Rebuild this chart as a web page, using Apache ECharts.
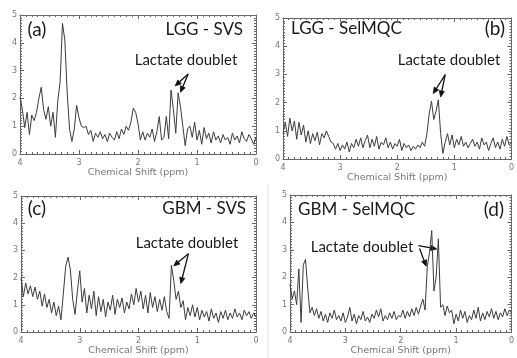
<!DOCTYPE html>
<html>
<head>
<meta charset="utf-8">
<script src="https://cdn.jsdelivr.net/npm/echarts@6/dist/echarts.min.js"></script>
<style>
  html, body { margin: 0; padding: 0; background: #fff; }
  #chart { width: 517px; height: 358px; }
</style>
</head>
<body>
<div id="chart"></div>
<script>
// chemical shift grid (ppm), shared by all four spectra
const ppm = [
  4.00, 3.96, 3.92, 3.88, 3.84, 3.80, 3.76, 3.72, 3.68, 3.64,
  3.60, 3.56, 3.52, 3.48, 3.44, 3.40, 3.36, 3.32, 3.28, 3.24,
  3.20, 3.16, 3.12, 3.08, 3.04, 3.00, 2.96, 2.92, 2.88, 2.84,
  2.80, 2.76, 2.72, 2.68, 2.64, 2.60, 2.56, 2.52, 2.48, 2.44,
  2.40, 2.36, 2.32, 2.28, 2.24, 2.20, 2.16, 2.12, 2.08, 2.04,
  2.00, 1.96, 1.92, 1.88, 1.84, 1.80, 1.76, 1.72, 1.68, 1.64,
  1.60, 1.56, 1.52, 1.48, 1.44, 1.40, 1.36, 1.32, 1.28, 1.24,
  1.20, 1.16, 1.12, 1.08, 1.04, 1.00, 0.96, 0.92, 0.88, 0.84,
  0.80, 0.76, 0.72, 0.68, 0.64, 0.60, 0.56, 0.52, 0.48, 0.44,
  0.40, 0.36, 0.32, 0.28, 0.24, 0.20, 0.16, 0.12, 0.08, 0.04,
  0.00
];

const lggSvs = [
  2.05, 1.6, 0.95, 1.5, 0.7, 1.4, 1.2, 1.5, 2.0, 2.4,
  1.6, 1.25, 1.7, 1.0, 1.5, 0.6, 1.9, 2.6, 4.7, 4.1,
  2.2, 0.9, 0.45, 0.9, 1.75, 1.3, 1.0, 0.95, 1.0, 0.7,
  0.85, 0.45, 0.75, 0.6, 0.8, 0.55, 0.7, 0.45, 0.75, 0.6,
  0.5, 0.8, 0.55, 0.9, 0.7, 1.0, 0.85, 1.15, 1.65, 1.5,
  1.1, 0.5, 0.8, 0.5, 0.75, 0.6, 0.9, 0.45, 0.8, 1.35,
  0.5, 0.6, 1.35, 0.55, 2.3, 1.6, 0.75, 2.2, 1.7, 1.0,
  0.3, 0.9, 1.0, 0.6, 1.15, 0.5, 0.85, 0.35, 0.95, 0.55,
  0.75, 0.4, 0.8, 0.5, 0.65, 0.4, 0.7, 0.5, 0.6, 0.35,
  0.75, 0.5, 0.65, 0.4, 0.8, 0.55, 0.45, 0.7, 0.55, 0.35,
  0.6
];

const lggSelMQC = [
  0.9, 1.3, 0.8, 1.45, 1.0, 1.35, 0.7, 1.3, 0.85, 1.2,
  0.6, 1.0, 0.55, 0.9, 0.65, 0.95, 0.5, 0.9, 0.75, 1.0,
  0.8, 0.6, 0.55, 0.35, 0.55, 0.3, 0.5, 0.35, 0.6, 0.25,
  0.55, 0.4, 0.7, 0.45, 0.75, 0.4, 0.65, 0.85, 0.4, 0.7,
  0.45, 0.8, 0.35, 0.6, 0.5, 0.75, 0.4, 0.6, 0.35, 0.55,
  0.45, 0.7, 0.3, 0.55, 0.4, 0.5, 0.3, 0.45, 0.35, 0.5,
  0.4, 0.6, 0.45, 0.9, 1.6, 2.05, 1.4, 1.7, 2.1, 0.9,
  0.2, 0.6, 0.9, 0.5, 0.85, 0.4, 0.7, 0.5, 0.8, 0.45,
  0.6, 0.4, 0.55, 0.7, 0.45, 0.6, 0.35, 0.75, 0.5, 0.6,
  0.3, 0.55, 0.75, 0.4, 0.6, 0.35, 0.7, 0.45, 0.8, 0.5,
  0.6
];

const gbmSvs = [
  2.0, 1.3, 1.8, 1.4, 1.7, 1.3, 1.65, 1.2, 1.5, 0.95,
  1.4, 0.9, 1.2, 0.7, 1.1, 0.6, 0.95, 0.45, 1.4, 2.4,
  2.75, 2.3, 1.2, 0.65, 1.5, 2.25, 1.1, 1.6, 0.7, 1.35,
  0.85, 1.5, 0.6, 1.3, 0.75, 1.2, 0.55, 1.1, 0.8, 1.35,
  0.65, 1.2, 0.9, 1.25, 0.7, 1.1, 0.85, 1.4, 1.0, 1.6,
  1.1, 1.5, 0.85, 1.35, 0.7, 1.45, 0.9, 1.3, 0.75, 1.2,
  0.8, 1.3, 0.75, 0.5, 2.45, 1.9, 1.2, 1.5, 0.9, 1.15,
  0.45, 0.9, 0.6, 1.0, 0.55, 0.9, 0.45, 0.8, 0.55, 0.75,
  0.4, 0.85, 0.5, 0.7, 0.35, 0.75, 0.5, 0.8, 0.45, 0.7,
  0.5, 0.85, 0.55, 0.7, 0.45, 0.8, 0.6, 0.75, 0.5, 0.7,
  0.55
];

const gbmSelMQC = [
  1.75, 1.2, 1.5, 1.0, 2.3, 0.35, 2.45, 2.65, 1.6, 0.7,
  0.9, 0.6, 0.85, 0.5, 0.75, 0.4, 0.65, 0.35, 0.7, 0.5,
  0.8, 0.45, 0.6, 0.4, 0.7, 0.35, 0.55, 0.9, 0.4, 0.65,
  0.3, 0.6, 0.45, 0.75, 0.4, 0.55, 0.35, 0.65, 0.5, 0.8,
  0.55, 0.85, 0.4, 0.6, 0.45, 0.7, 0.5, 0.75, 0.45, 0.6,
  0.55, 0.8, 0.5, 0.75, 0.55, 0.85, 0.6, 0.9, 0.65, 0.95,
  1.2, 0.8, 2.4, 2.9, 3.7, 1.5, 2.0, 3.4, 0.9, 1.0,
  0.6, 0.95, 0.7, 0.8, 0.3, 0.65, 0.4, 0.8, 0.5, 0.75,
  0.35, 0.6, 0.45, 0.8, 0.5, 0.9, 0.4, 0.7, 0.45, 0.75,
  0.55, 0.85, 0.5, 0.75, 0.45, 0.7, 0.55, 0.85, 0.6, 0.8,
  0.7
];

const xTicks = [4, 3, 2, 1, 0];
const yTicks = [0, 1, 2, 3, 4, 5];

const panels = [
  { name: "LGG - SVS", tag: "(a)", values: lggSvs,
    grid: { left: 20, top: 15, width: 236, height: 139 } },
  { name: "LGG - SelMQC", tag: "(b)", values: lggSelMQC,
    grid: { left: 283, top: 18, width: 233, height: 141 } },
  { name: "GBM - SVS", tag: "(c)", values: gbmSvs,
    grid: { left: 21, top: 196, width: 235, height: 136 } },
  { name: "GBM - SelMQC", tag: "(d)", values: gbmSelMQC,
    grid: { left: 290, top: 195, width: 227, height: 137 } },
];

// arrows "Lactate doublet": [tail ppm, tail y, head ppm, head y]
const arrows = [
  [[1.15, 2.88, 1.37, 2.45], [1.15, 2.88, 1.28, 2.22]],
  [[1.16, 2.99, 1.37, 2.32], [1.16, 2.99, 1.24, 2.20]],
  [[1.15, 2.88, 1.40, 2.43], [1.15, 2.88, 1.28, 1.78]],
  [[1.68, 3.15, 1.35, 3.03], [1.66, 3.05, 1.54, 2.40]],
];

const axisColor = "#666";
const labelStyle = { fontSize: 8, color: "#777", fontFamily: "DejaVu Sans" };

const grids = [], xAxes = [], yAxes = [], series = [];
panels.forEach((p, k) => {
  grids.push(p.grid);
  const xBase = {
    type: "value", gridIndex: k, min: 0, max: 4, interval: 1, inverse: true,
    axisLine: { show: true, onZero: false, lineStyle: { color: axisColor, width: 1 } },
    axisTick: { show: true, inside: true, length: 4, lineStyle: { color: axisColor } },
    minorTick: { show: true, splitNumber: 10, length: 2, lineStyle: { color: axisColor } },
    splitLine: { show: false },
  };
  xAxes.push(Object.assign({}, xBase, {
    position: "bottom",
    axisLabel: Object.assign({ margin: 5, formatter: (v) => xTicks.includes(v) ? String(v) : "" }, labelStyle),
    name: "Chemical Shift (ppm)", nameLocation: "middle", nameGap: 13,
    nameTextStyle: { fontSize: 9.5, color: "#777", fontFamily: "DejaVu Sans" },
  }));
  xAxes.push(Object.assign({}, xBase, { position: "top", axisLabel: { show: false } }));
  const yBase = {
    type: "value", gridIndex: k, min: 0, max: 5, interval: 1,
    axisLine: { show: true, onZero: false, lineStyle: { color: axisColor, width: 1 } },
    axisTick: { show: true, inside: true, length: 4, lineStyle: { color: axisColor } },
    minorTick: { show: true, splitNumber: 10, length: 2, lineStyle: { color: axisColor } },
    splitLine: { show: false },
  };
  yAxes.push(Object.assign({}, yBase, {
    position: "left",
    axisLabel: Object.assign({ margin: 3, formatter: (v) => yTicks.includes(v) ? String(v) : "" }, labelStyle),
  }));
  yAxes.push(Object.assign({}, yBase, { position: "right", axisLabel: { show: false } }));
  series.push({
    type: "line", xAxisIndex: 2 * k, yAxisIndex: 2 * k,
    data: ppm.map((x, i) => [x, p.values[i]]),
    showSymbol: false, symbol: "none",
    lineStyle: { color: "#3c3c3c", width: 1 },
  });
});

const chart = echarts.init(document.getElementById("chart"), null, { renderer: "canvas" });
chart.setOption({
  animation: false,
  backgroundColor: "#fff",
  grid: grids,
  xAxis: xAxes,
  yAxis: yAxes,
  series: series,
});

// annotation texts and arrows
const font = "Lato";
const txt = (x, y, text, size, align) => ({
  type: "text", x: x, y: y, silent: true,
  style: { text: text, fontFamily: font, fontSize: size, fill: "#1a1a1a",
    align: align, verticalAlign: "middle" },
});
const g = [
  txt(37, 30, "(a)", 19, "center"),
  txt(243, 30, "LGG - SVS", 17, "right"),
  txt(186, 60, "Lactate doublet", 15, "center"),
  txt(291, 29, "LGG - SelMQC", 17, "left"),
  txt(505, 29, "(b)", 19, "right"),
  txt(449, 60, "Lactate doublet", 15, "center"),
  txt(37, 209, "(c)", 19, "center"),
  txt(246, 209, "GBM - SVS", 17, "right"),
  txt(187, 243, "Lactate doublet", 15, "center"),
  txt(298, 210, "GBM - SelMQC", 17, "left"),
  txt(504, 210, "(d)", 19, "right"),
  txt(362, 247, "Lactate doublet", 15, "center"),
  { type: "line", silent: true, shape: { x1: 268, y1: 184, x2: 268, y2: 358 },
    style: { stroke: "#e4e4e4", lineWidth: 1 } },
];
arrows.forEach((list, k) => {
  list.forEach((a) => {
    const p0 = chart.convertToPixel({ xAxisIndex: 2 * k, yAxisIndex: 2 * k }, [a[0], a[1]]);
    const p1 = chart.convertToPixel({ xAxisIndex: 2 * k, yAxisIndex: 2 * k }, [a[2], a[3]]);
    const dx = p1[0] - p0[0], dy = p1[1] - p0[1];
    const len = Math.sqrt(dx * dx + dy * dy);
    const ux = dx / len, uy = dy / len;
    const hl = 6, hw = 2.6;
    const bx = p1[0] - ux * hl, by = p1[1] - uy * hl;
    g.push({ type: "line", silent: true,
      shape: { x1: p0[0], y1: p0[1], x2: bx, y2: by },
      style: { stroke: "#111", lineWidth: 1.3 } });
    g.push({ type: "polygon", silent: true,
      shape: { points: [[p1[0], p1[1]], [bx - uy * hw, by + ux * hw], [bx + uy * hw, by - ux * hw]] },
      style: { fill: "#111", stroke: "#111", lineWidth: 0.8 } });
  });
});
chart.setOption({ graphic: g });
</script>
</body>
</html>
